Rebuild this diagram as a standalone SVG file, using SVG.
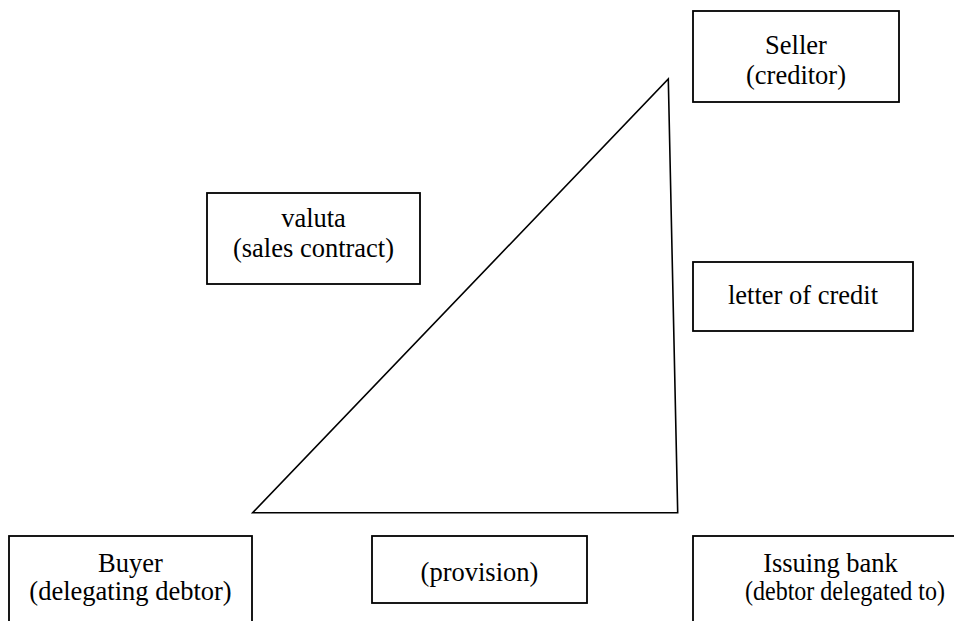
<svg xmlns="http://www.w3.org/2000/svg" width="954" height="621" viewBox="0 0 954 621">
  <style>
    .box { fill: #ffffff; stroke: #000000; stroke-width: 1.8; }
    .lbl { font-family: "Liberation Serif", "Times New Roman", serif; font-size: 26.5px; fill: #000000; text-anchor: middle; }
    .tri { fill: none; stroke: #000000; stroke-width: 1.6; stroke-linejoin: miter; }
  </style>
  <rect x="0" y="0" width="954" height="621" fill="#ffffff"/>
  <g id="connectors">
    <path class="tri" d="M 668.3 79 L 677.7 512.7 L 252.7 512.7 Z"/>
  </g>
  <g id="seller">
    <rect class="box" x="693" y="11" width="206" height="91"/>
    <text class="lbl" x="796" y="54">Seller</text>
    <text class="lbl" x="796" y="84">(creditor)</text>
  </g>
  <g id="valuta">
    <rect class="box" x="207" y="193" width="213" height="91"/>
    <text class="lbl" x="313.5" y="227">valuta</text>
    <text class="lbl" x="313.5" y="257">(sales contract)</text>
  </g>
  <g id="letter-of-credit">
    <rect class="box" x="693" y="262" width="220" height="69"/>
    <text class="lbl" x="803" y="304">letter of credit</text>
  </g>
  <g id="buyer">
    <rect class="box" x="9" y="536" width="243" height="100"/>
    <text class="lbl" x="130.5" y="572">Buyer</text>
    <text class="lbl" x="130.5" y="600">(delegating debtor)</text>
  </g>
  <g id="provision">
    <rect class="box" x="372" y="536" width="215" height="67"/>
    <text class="lbl" x="479.5" y="581">(provision)</text>
  </g>
  <g id="issuing-bank">
    <rect class="box" x="693" y="536" width="280" height="100"/>
    <text class="lbl" x="830.5" y="572">Issuing bank</text>
    <text class="lbl" x="845" y="600" textLength="200" lengthAdjust="spacingAndGlyphs">(debtor delegated to)</text>
  </g>
</svg>
